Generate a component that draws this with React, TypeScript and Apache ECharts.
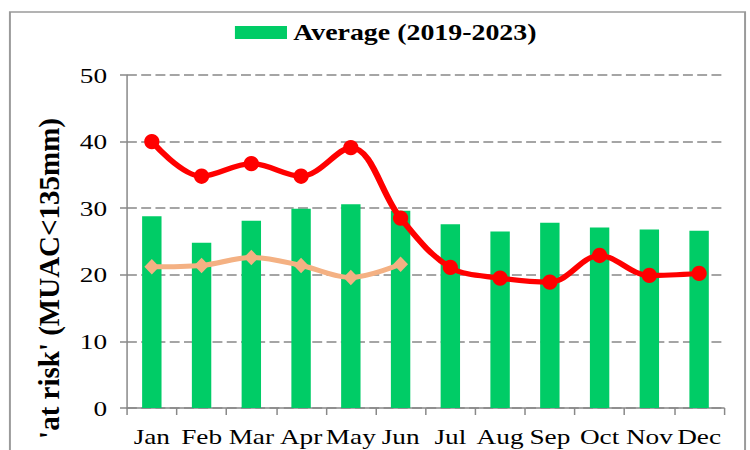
import React, { useEffect, useRef } from "react";
import * as echarts from "echarts";

const months = ["Jan", "Feb", "Mar", "Apr", "May", "Jun", "Jul", "Aug", "Sep", "Oct", "Nov", "Dec"];
const averageValues = [28.8, 24.8, 28.1, 29.9, 30.6, 29.6, 27.6, 26.5, 27.8, 27.1, 26.8, 26.6];
const redValues = [40.0, 34.8, 36.7, 34.8, 39.1, 28.5, 21.1, 19.5, 18.9, 22.9, 19.9, 20.2];
const peachValues = [21.2, 21.4, 22.6, 21.4, 19.6, 21.6, null, null, null, null, null, null];
const yTicks = { min: 0, max: 50, interval: 10 };
const legendLabel = "Average (2019-2023)";
const yAxisTitle = "'at risk' (MUAC<135mm)";

// The reference is horizontally stretched; we draw on a narrower canvas and scale it.
const S = 1.2397;
const W = 605;
const H = 450;
const FONT = "Liberation Serif";

export default function App() {
  const ref = useRef<HTMLDivElement>(null);

  useEffect(() => {
    if (!ref.current) return;
    const chart = echarts.init(ref.current, null, { renderer: "svg", width: W, height: H });
    chart.setOption({
      animation: false,
      backgroundColor: "#ffffff",
      legend: {
        data: [legendLabel],
        left: 189.5,
        top: 21,
        padding: 0,
        icon: "rect",
        itemWidth: 42,
        itemHeight: 13,
        textStyle: { fontFamily: FONT, fontSize: 22.5, fontWeight: "bold", color: "#000" },
      },
      grid: { left: 102.4, right: 21, top: 75, bottom: 42, containLabel: false },
      xAxis: {
        type: "category",
        data: months,
        boundaryGap: true,
        axisLine: { show: true, lineStyle: { color: "#888888", width: 1.5 } },
        axisTick: { show: true, length: 7, lineStyle: { color: "#888888", width: 1.2 } },
        axisLabel: { interval: 0, fontFamily: FONT, fontSize: 22, color: "#000", margin: 17 },
      },
      yAxis: {
        type: "value",
        min: yTicks.min,
        max: yTicks.max,
        interval: yTicks.interval,
        axisLine: { show: true, lineStyle: { color: "#888888", width: 1.2 } },
        axisTick: { show: true, length: 5.6, lineStyle: { color: "#888888", width: 1.5 } },
        axisLabel: { fontFamily: FONT, fontSize: 22, color: "#000", margin: 16 },
        splitLine: { show: true, lineStyle: { color: "#888888", width: 1.5, type: [8, 3.5] } },
      },
      graphic: [
        {
          type: "rect",
          silent: true,
          shape: { x: 8, y: 12, width: 593, height: 470 },
          style: { fill: "none", stroke: "#9a9a9a", lineWidth: 1.6 },
        },
        {
          type: "text",
          silent: true,
          x: 39.5,
          y: 118,
          rotation: Math.PI / 2,
          scaleY: 1 / S,
          style: {
            text: yAxisTitle,
            font: "bold 29px Liberation Serif",
            fill: "#000",
            align: "right",
            verticalAlign: "middle",
          },
        },
      ],
      series: [
        {
          name: legendLabel,
          type: "bar",
          data: averageValues,
          barWidth: "39%",
          itemStyle: { color: "#00CC66" },
          z: 1,
        },
        {
          name: "Series B",
          type: "line",
          data: peachValues,
          smooth: 0.35,
          symbol: "diamond",
          symbolSize: [12, 15.5],
          lineStyle: { color: "#F4B183", width: 5 },
          itemStyle: { color: "#F4B183" },
          z: 2,
        },
        {
          name: "Series A",
          type: "line",
          data: redValues,
          smooth: 0.35,
          symbol: "circle",
          symbolSize: [12.3, 15.3],
          lineStyle: { color: "#FF0000", width: 5.2 },
          itemStyle: { color: "#FF0000" },
          z: 3,
        },
      ],
    });
    return () => chart.dispose();
  }, []);

  return (
    <div
      style={{
        position: "fixed",
        left: 0,
        top: 0,
        width: 750,
        height: 450,
        overflow: "hidden",
        background: "#fff",
      }}
    >
      <div
        ref={ref}
        style={{
          width: W,
          height: H,
          transform: `scaleX(${S})`,
          transformOrigin: "0 0",
        }}
      />
    </div>
  );
}
